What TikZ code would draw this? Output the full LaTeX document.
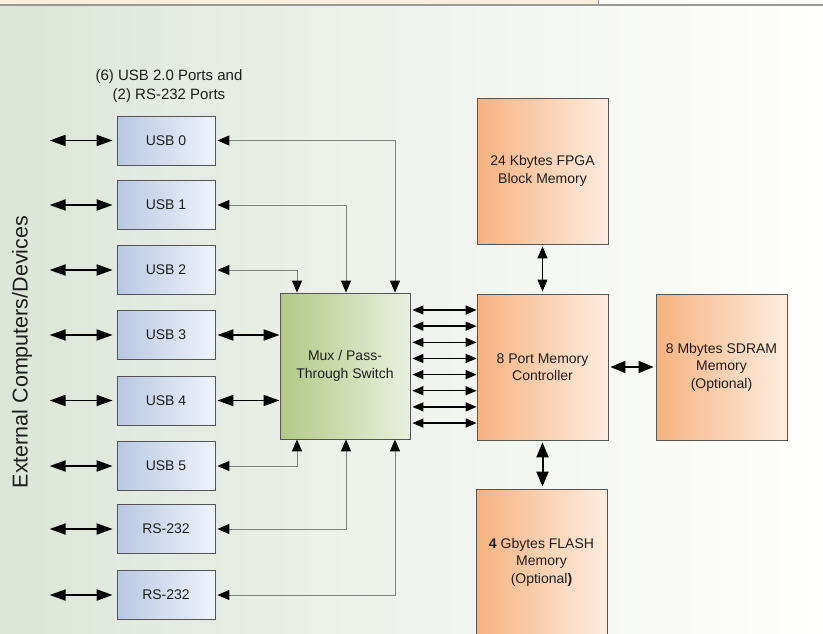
\documentclass[tikz,border=0pt]{standalone}
\usepackage{fontspec}
\setmainfont{Liberation Sans}
\usetikzlibrary{arrows.meta,calc}
\definecolor{usbL}{RGB}{184,200,226}
\definecolor{usbR}{RGB}{240,243,251}
\definecolor{muxL}{RGB}{178,201,134}
\definecolor{muxR}{RGB}{234,240,222}
\definecolor{orgL}{RGB}{246,178,128}
\definecolor{orgR}{RGB}{254,237,224}
\definecolor{boxline}{RGB}{85,85,85}
\definecolor{txt}{RGB}{30,30,30}
\definecolor{bgA}{RGB}{220,229,216}
\definecolor{bgM}{RGB}{240,243,237}
\definecolor{bgB}{RGB}{254,254,253}
\definecolor{beige}{RGB}{251,239,220}
\definecolor{connc}{RGB}{130,130,130}
\tikzset{
  boxbase/.style={draw=boxline, line width=0.8pt, inner sep=0pt, align=center, text=txt,
    font=\fontsize{14}{17.5}\selectfont},
  usbbox/.style={boxbase, left color=usbL, right color=usbR, minimum width=98pt, minimum height=49pt},
  muxbox/.style={boxbase, left color=muxL, right color=muxR, minimum width=130pt, minimum height=146pt},
  membox/.style={boxbase, left color=orgL, right color=orgR, minimum width=131pt, minimum height=146pt},
  ext/.style={line width=1.9pt, {Triangle[length=16pt,width=11pt]}-{Triangle[length=16pt,width=11pt]}},
  bus/.style={line width=1.4pt, {Triangle[length=11pt,width=9pt]}-{Triangle[length=11pt,width=9pt]}},
  conn/.style={draw=connc, line width=0.9pt, {Triangle[length=12pt,width=10pt,color=black]}-{Triangle[length=12pt,width=10pt,color=black]}},
  thinarr/.style={line width=0.9pt, {Triangle[length=12pt,width=10pt]}-{Triangle[length=12pt,width=10pt]}},
  bigarr/.style={line width=2pt, {Triangle[length=15pt,width=12pt]}-{Triangle[length=15pt,width=12pt]}}
}
\begin{document}
\begin{tikzpicture}[x=1pt,y=-1pt]
\useasboundingbox (0,0) rectangle (823,633);
% background
\fill[bgB] (-2,-2) rectangle (825,635);
\shade[left color=bgA, right color=bgB, middle color=bgM] (0,5) rectangle (823,633);
\fill[beige] (0,0) rectangle (598,5);
\fill[bgB] (598,0) rectangle (823,5);
\draw[gray!80, line width=1.2pt] (0,5) -- (823,5);
\draw[gray!80, line width=0.8pt] (598,0) -- (598,5);

% labels
\node[text=txt, align=center, font=\fontsize{15}{19}\selectfont] (lbl) at (169,86) {(6) USB 2.0 Ports and\\(2) RS-232 Ports};
\node[text=txt, rotate=90, font=\fontsize{21.5}{25}\selectfont] (ext) at (22,352) {External Computers/Devices};

% port boxes
\node[usbbox] (usb0) at (166,140.5) {USB 0};
\node[usbbox] (usb1) at (166,205) {USB 1};
\node[usbbox] (usb2) at (166,270) {USB 2};
\node[usbbox] (usb3) at (166,335) {USB 3};
\node[usbbox] (usb4) at (166,400.5) {USB 4};
\node[usbbox] (usb5) at (166,466) {USB 5};
\node[usbbox] (rs1) at (166,529) {RS-232};
\node[usbbox] (rs2) at (166,595) {RS-232};

% mux and memories
\node[muxbox] (mux) at (345,366) {Mux / Pass-\\Through Switch};
\node[membox] (ctrl) at (542.5,367) {8 Port Memory\\Controller};
\node[membox] (fpga) at (542.5,171) {24 Kbytes FPGA\\Block Memory};
\node[membox] (sdram) at (721.5,367) {8 Mbytes SDRAM\\Memory\\(Optional)};
\node[membox] (flash) at (541.5,562) {\textbf{4} Gbytes FLASH\\Memory\\(Optional\textbf{)}};

% external arrows
\foreach \n in {usb0,usb1,usb2,usb3,usb4,usb5,rs1,rs2}{
  \coordinate (e-\n) at ([xshift=-67pt]\n.west);
  \draw[ext] (e-\n) -- ([xshift=-4pt]\n.west);
}

% usb3/usb4 to mux
\draw[ext] ([xshift=2pt]usb3.east) -- (usb3.east -| mux.west);
\draw[ext] ([xshift=2pt]usb4.east) -- (usb4.east -| mux.west);

% thin connectors to mux top / bottom
\coordinate (mt1) at ([xshift=-48pt]mux.north);
\coordinate (mt2) at ([xshift=1pt]mux.north);
\coordinate (mt3) at ([xshift=50pt]mux.north);
\coordinate (mb1) at ([xshift=-48pt]mux.south);
\coordinate (mb2) at ([xshift=1pt]mux.south);
\coordinate (mb3) at ([xshift=50pt]mux.south);
\draw[conn, shorten >=2pt] (mt3) |- (usb0.east);
\draw[conn, shorten >=2pt] (mt2) |- (usb1.east);
\draw[conn, shorten >=2pt] (mt1) |- (usb2.east);
\draw[conn, shorten >=2pt] (mb1) |- (usb5.east);
\draw[conn, shorten >=2pt] (mb2) |- (rs1.east);
\draw[conn, shorten >=2pt] (mb3) |- (rs2.east);

% bus between mux and controller
\coordinate (mx) at ([xshift=2pt]mux.east);
\foreach \i in {0,...,7}{
  \pgfmathsetmacro{\yy}{310+16.15*\i}
  \draw[bus] (mx |- 0,\yy) -- (ctrl.west |- 0,\yy);
}

% memory links
\draw[thinarr, shorten <=2pt, shorten >=2pt] (ctrl.north) -- (fpga.south);
\draw[bigarr, shorten <=2pt, shorten >=2pt] (ctrl.east) -- (sdram.west);
\draw[bigarr, shorten <=2pt, shorten >=2pt] (ctrl.south) -- (flash.north -| ctrl.south);
\end{tikzpicture}
\end{document}
